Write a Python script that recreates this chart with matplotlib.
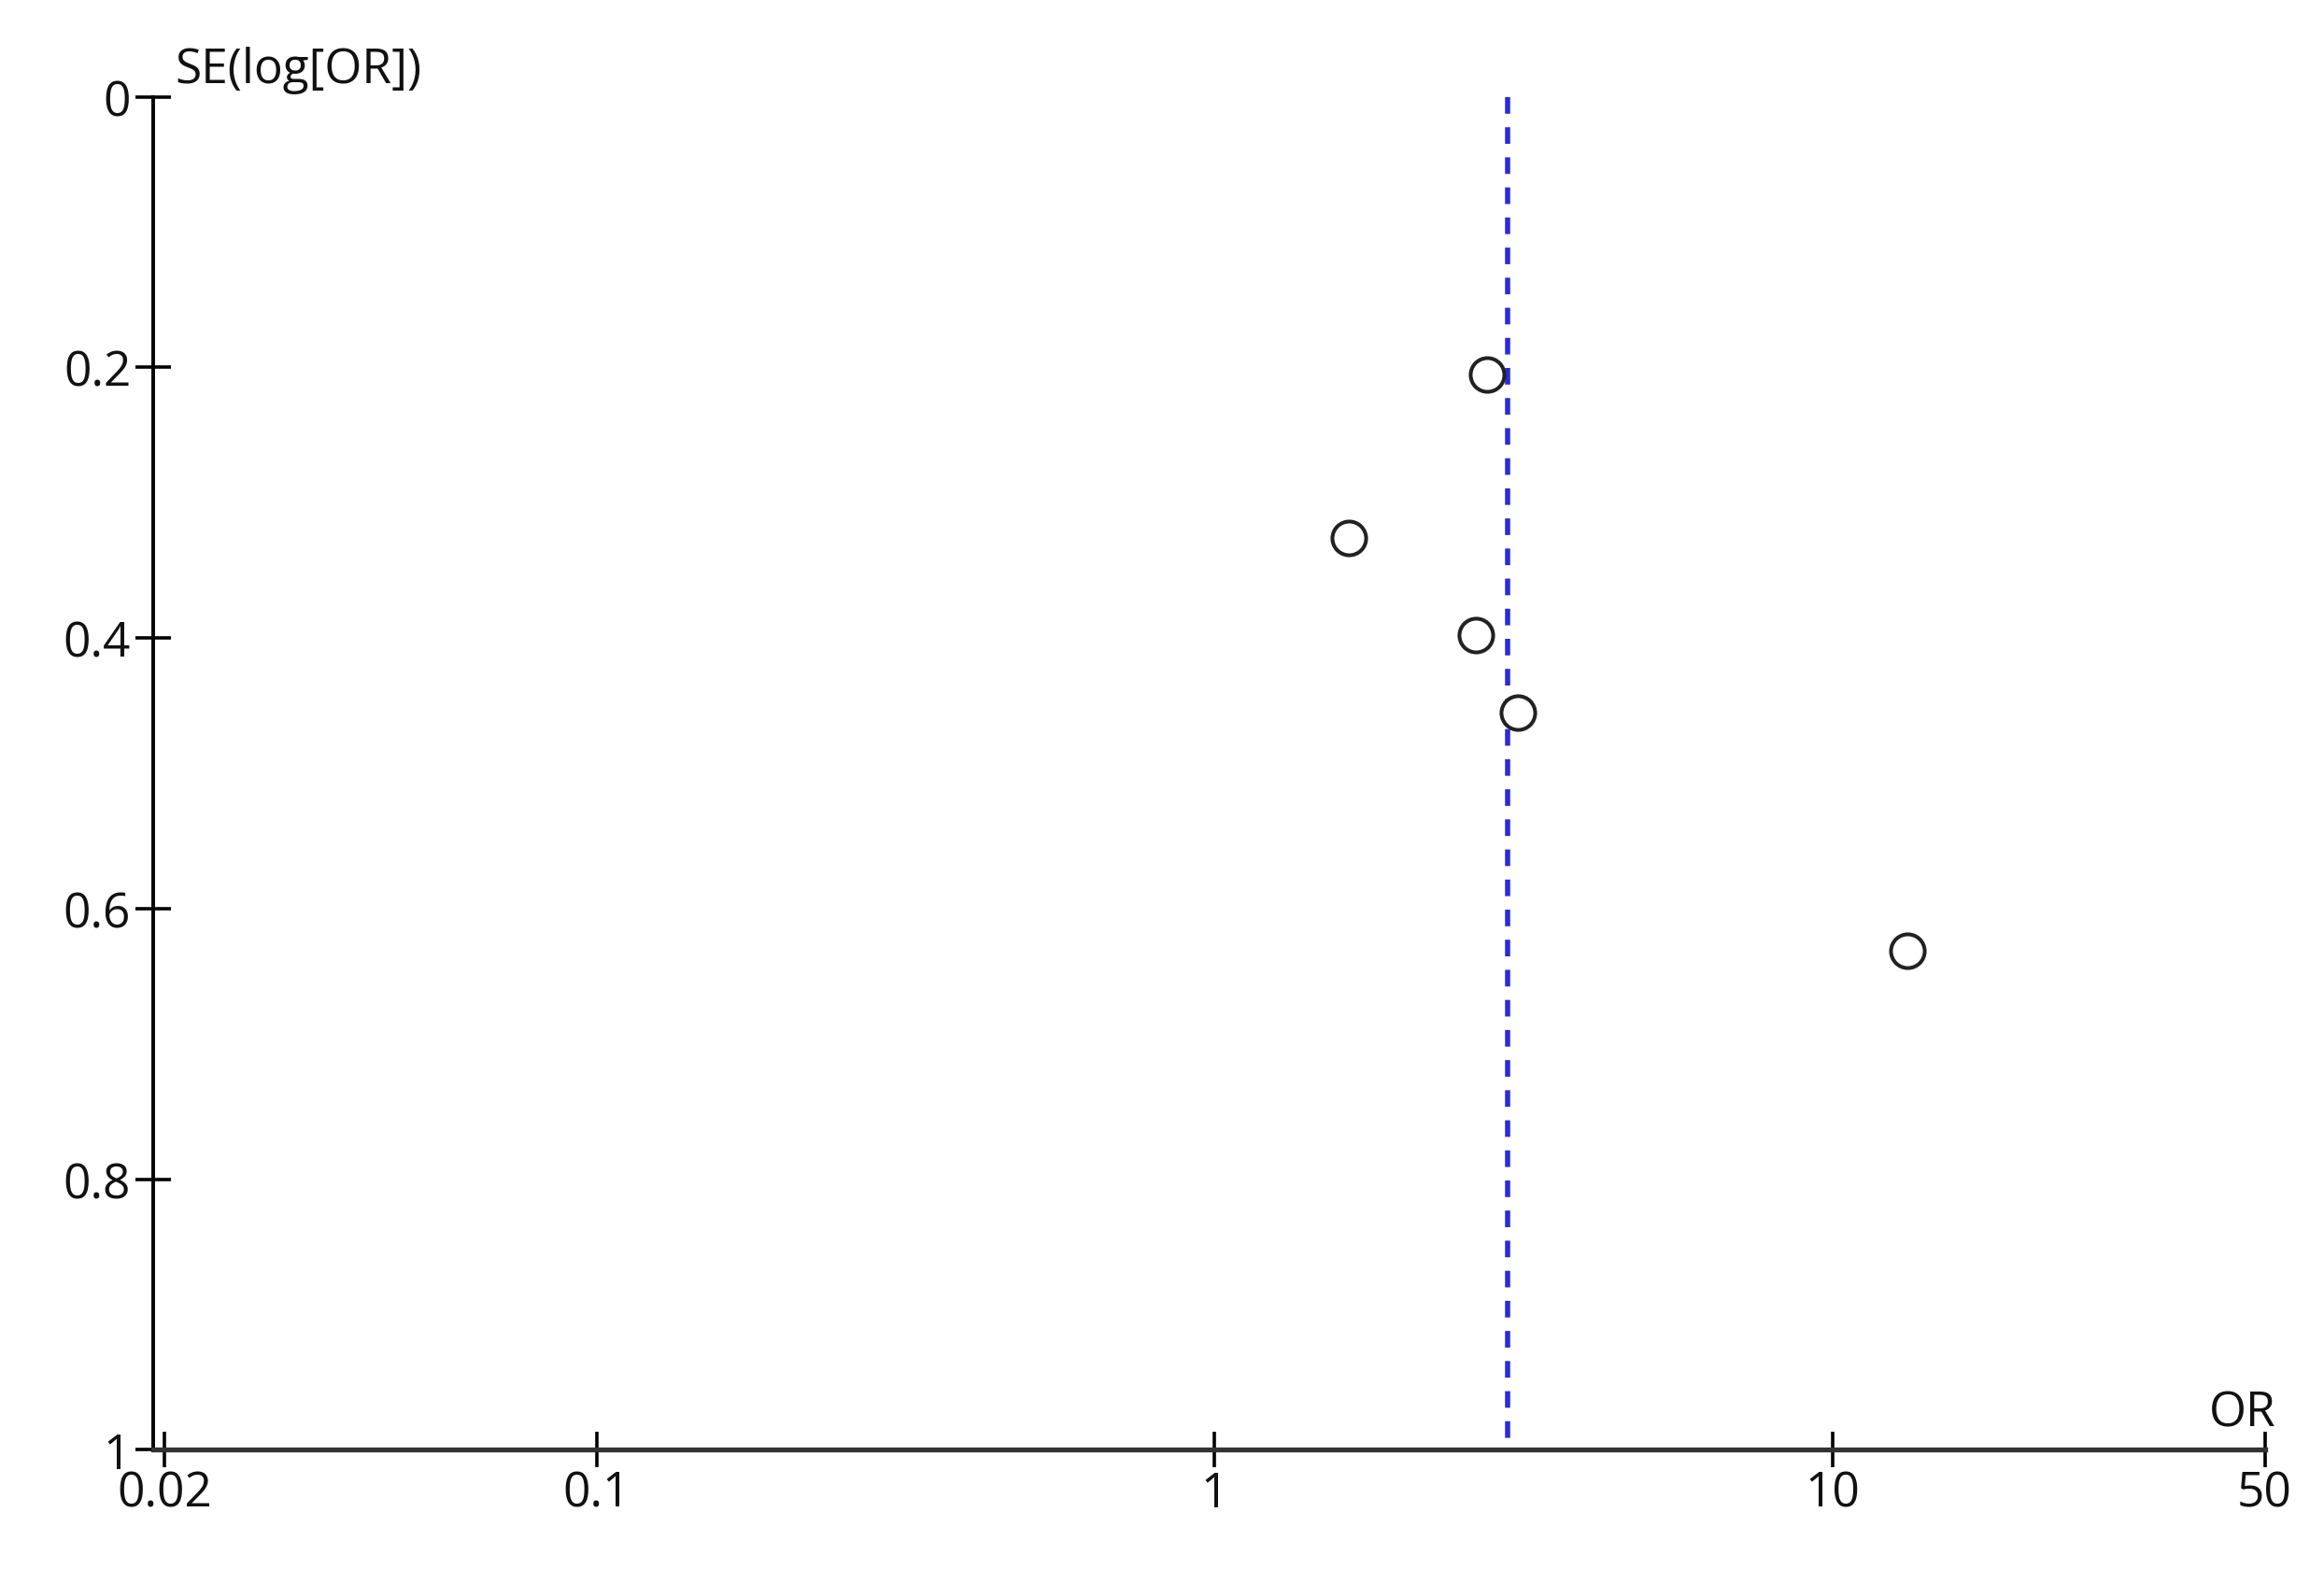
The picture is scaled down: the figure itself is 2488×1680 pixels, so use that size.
import numpy as np
import matplotlib
matplotlib.use('Agg')
import matplotlib.pyplot as plt

# study estimates (odds ratio, standard error of log OR)
odds_ratios = [2.76, 1.65, 2.65, 3.09, 13.2]
se_log_or = [0.205, 0.326, 0.398, 0.455, 0.631]
pooled_or = 2.98

x_ticks = [0.02, 0.1, 1, 10, 50]
x_tick_labels = ['0.02', '0.1', '1', '10', '50']
y_ticks = [0, 0.2, 0.4, 0.6, 0.8, 1]
y_tick_labels = ['0', '0.2', '0.4', '0.6', '0.8', '1']

plt.rcParams['font.family'] = ['Open Sans', 'DejaVu Sans']

fig = plt.figure(figsize=(24.88, 16.81), dpi=100)
ax = fig.add_axes([0.0661, 0.0759, 0.9084, 0.8618])

# pooled estimate, drawn from SE=0 (top) down to the x axis
ax.plot([pooled_or, pooled_or], [y_ticks[0], y_ticks[-1]], color='#2a2ae0', lw=4,
        linestyle=(0, (3.2, 2.6)), zorder=2)
ax.plot(odds_ratios, se_log_or, 'o', ms=26, mfc='white', mec='#222222', mew=2.9, zorder=3,
        clip_on=False)

ax.set_xscale('log')
ax.set_xlim(0.0192, 50)
ax.set_ylim(1, 0)

ax.set_xticks(x_ticks)
ax.set_xticklabels(x_tick_labels)
ax.xaxis.set_minor_locator(matplotlib.ticker.NullLocator())
ax.set_yticks(y_ticks)
ax.set_yticklabels(y_tick_labels)

for s in ['top', 'right']:
    ax.spines[s].set_visible(False)
ax.spines['left'].set_linewidth(2.8)
ax.spines['left'].set_color('black')
ax.spines['bottom'].set_linewidth(3.8)
ax.spines['bottom'].set_color('#333333')

ax.tick_params(axis='both', direction='inout', length=27, width=2.6, colors='black',
               labelsize=37, labelcolor='#111111')
ax.tick_params(axis='x', pad=2)
ax.tick_params(axis='y', pad=4)

ax.text(0.010, 1.020, 'SE(log[OR])', transform=ax.transAxes, ha='left', va='center',
        fontsize=37, color='#111111')
ax.text(1.0055, 0.0275, 'OR', transform=ax.transAxes, ha='right', va='center',
        fontsize=37, color='#111111')

fig.savefig('out.png', dpi=100, facecolor='white')
plt.close(fig)
